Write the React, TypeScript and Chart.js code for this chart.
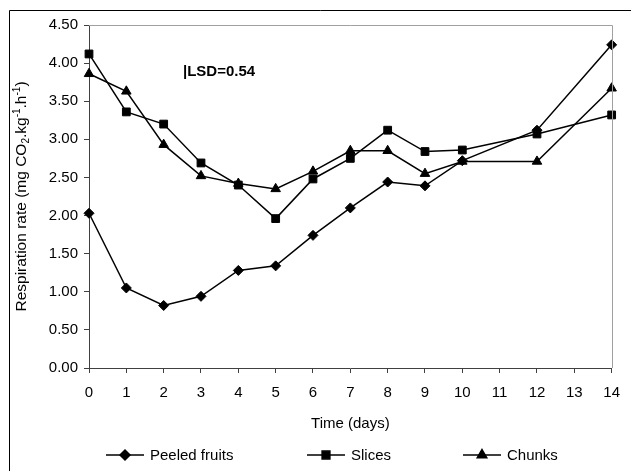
import React, { useEffect, useRef } from 'react';
import { Chart, registerables } from 'chart.js';
import { drawPoint } from 'chart.js/helpers';

Chart.register(...registerables);

const days = [0, 1, 2, 3, 4, 5, 6, 7, 8, 9, 10, 12, 14];
const peeled = [2.03, 1.05, 0.82, 0.94, 1.28, 1.34, 1.74, 2.1, 2.44, 2.39, 2.72, 3.12, 4.24];
const slices = [4.12, 3.36, 3.2, 2.69, 2.4, 1.96, 2.48, 2.75, 3.12, 2.84, 2.86, 3.07, 3.32];
const chunks = [3.86, 3.63, 2.93, 2.52, 2.42, 2.35, 2.58, 2.85, 2.85, 2.55, 2.71, 2.71, 3.67];
const seriesNames = ['Peeled fruits', 'Slices', 'Chunks'];
const seriesMarkers = ['rectRot', 'rect', 'triangle'];
const seriesRadius = [5, 5.5, 5.5];
const seriesValues = [peeled, slices, chunks];
const xTitle = 'Time (days)';
const lsdLabel = '|LSD=0.54';

const FONT = '"Liberation Sans", Arial, sans-serif';

const decorPlugin = {
  id: 'decor',
  afterDraw(chart: any) {
    const ctx = chart.ctx;
    const a = chart.chartArea;
    ctx.save();
    // outer border
    ctx.strokeStyle = '#000';
    ctx.lineWidth = 1;
    ctx.beginPath();
    ctx.moveTo(9.5, 480);
    ctx.lineTo(9.5, 10.5);
    ctx.lineTo(640, 10.5);
    ctx.stroke();
    // plot top/right border
    ctx.strokeStyle = '#a0a0a0';
    ctx.beginPath();
    ctx.moveTo(a.left, Math.round(a.top) + 0.5);
    ctx.lineTo(Math.round(a.right) + 0.5, Math.round(a.top) + 0.5);
    ctx.lineTo(Math.round(a.right) + 0.5, a.bottom);
    ctx.stroke();

    ctx.fillStyle = '#000';
    // LSD text
    ctx.font = `bold 15px ${FONT}`;
    ctx.textAlign = 'left';
    ctx.textBaseline = 'middle';
    ctx.fillText(lsdLabel, 183, 72);

    // x title
    ctx.font = `15px ${FONT}`;
    ctx.textAlign = 'center';
    ctx.fillText(xTitle, (a.left + a.right) / 2, 424);

    // y title with sub/superscripts
    const segs: [string, number][] = [
      ['Respiration rate (mg CO', 0],
      ['2', 1],
      ['.kg', 0],
      ['-1', -1],
      ['.h', 0],
      ['-1', -1],
      [')', 0],
    ];
    const mainF = `15.5px ${FONT}`;
    const smallF = `10px ${FONT}`;
    let total = 0;
    for (const [t, k] of segs) {
      ctx.font = k === 0 ? mainF : smallF;
      total += ctx.measureText(t).width;
    }
    ctx.translate(22, (a.top + a.bottom) / 2);
    ctx.rotate(-Math.PI / 2);
    ctx.textAlign = 'left';
    let x = -total / 2;
    for (const [t, k] of segs) {
      ctx.font = k === 0 ? mainF : smallF;
      const dy = k === 1 ? 4 : k === -1 ? -5 : 0;
      ctx.fillText(t, x, dy);
      x += ctx.measureText(t).width;
    }
    ctx.setTransform(1, 0, 0, 1, 0, 0);

    // legend
    const legendY = 455;
    const starts = [106, 307, 463];
    ctx.font = `15px ${FONT}`;
    ctx.textAlign = 'left';
    seriesNames.forEach((name, i) => {
      const s = starts[i];
      ctx.strokeStyle = '#000';
      ctx.lineWidth = 1.5;
      ctx.beginPath();
      ctx.moveTo(s, legendY);
      ctx.lineTo(s + 38, legendY);
      ctx.stroke();
      ctx.fillStyle = '#000';
      drawPoint(ctx, { pointStyle: seriesMarkers[i], radius: seriesRadius[i], rotation: 0, borderWidth: 1 } as any, s + 19, legendY);
      ctx.fillStyle = '#000';
      ctx.fillText(name, s + 44, legendY + 1);
    });
    ctx.restore();
  },
};

export default function App() {
  const ref = useRef<HTMLCanvasElement | null>(null);
  useEffect(() => {
    if (!ref.current) return;
    const chart = new Chart(ref.current, {
      type: 'line',
      data: {
        datasets: seriesNames.map((name, i) => ({
          label: name,
          data: days.map((d, j) => ({ x: d, y: seriesValues[i][j] })),
          borderColor: '#000',
          backgroundColor: '#000',
          borderWidth: 1.5,
          pointStyle: seriesMarkers[i] as any,
          pointRadius: seriesRadius[i],
          pointBorderWidth: 1,
          pointBackgroundColor: '#000',
          pointBorderColor: '#000',
          tension: 0,
          clip: false as any,
        })),
      },
      options: {
        animation: false,
        responsive: false,
        events: [],
        layout: { padding: { left: 0, top: 25, right: 18, bottom: 0 } },
        plugins: { legend: { display: false }, tooltip: { enabled: false } },
        scales: {
          x: {
            type: 'linear',
            min: 0,
            max: 14,
            afterFit: (s: any) => { s.height = 103; },
            ticks: { stepSize: 1, color: '#000', font: { family: FONT, size: 15 }, padding: 11 },
            grid: { drawOnChartArea: false, drawTicks: true, tickLength: 5, color: '#404040' },
            border: { color: '#404040', width: 1 },
          },
          y: {
            min: 0,
            max: 4.5,
            afterFit: (s: any) => { s.width = 89; },
            ticks: {
              stepSize: 0.5,
              color: '#000',
              font: { family: FONT, size: 15 },
              padding: 6,
              callback: (v: any) => Number(v).toFixed(2),
            },
            grid: { drawOnChartArea: false, drawTicks: true, tickLength: 5, color: '#404040' },
            border: { color: '#404040', width: 1 },
          },
        },
      },
      plugins: [decorPlugin],
    });
    return () => chart.destroy();
  }, []);
  return (
    <div style={{ position: 'fixed', left: 0, top: 0, width: 631, height: 471, background: '#fff' }}>
      <canvas ref={ref} width={631} height={471} style={{ display: 'block', width: 631, height: 471 }} />
    </div>
  );
}
